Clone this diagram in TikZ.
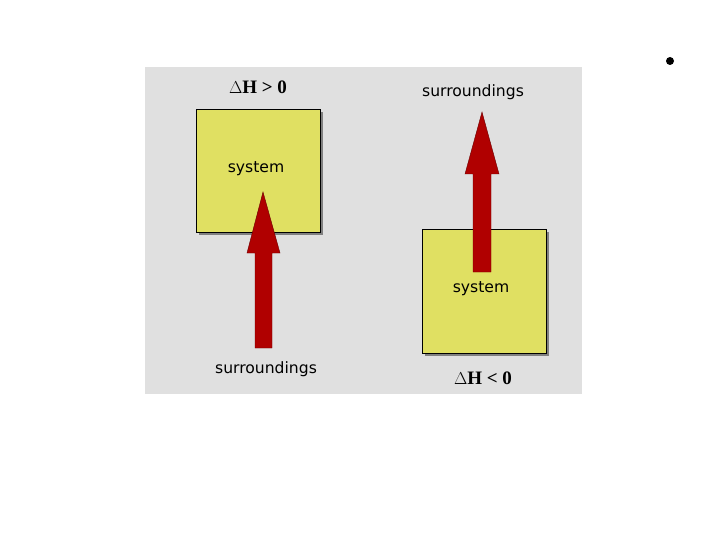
\documentclass[tikz,border=0pt]{standalone}
\usepackage{fontspec}
\setmainfont{Liberation Serif}
\newfontfamily\labfont{DejaVu Sans}
\definecolor{panel}{RGB}{224,224,224}
\definecolor{sysyellow}{RGB}{224,224,98}
\definecolor{arrowred}{RGB}{176,0,0}
\definecolor{shadowgray}{RGB}{128,128,128}
\tikzset{
  sysbox/.style={draw=black, line width=0.8pt, fill=sysyellow},
  shadowbox/.style={fill=shadowgray, draw=none},
  lab/.style={font=\labfont\fontsize{15.6}{18}\selectfont, inner sep=0pt},
  dh/.style={font=\bfseries\fontsize{19}{22}\selectfont, inner sep=0pt},
  bigarrow/.style={fill=arrowred, draw=arrowred!60!black, line width=0.4pt}
}
\begin{document}
\begin{tikzpicture}[x=1pt,y=-1pt]
\useasboundingbox (0,0) rectangle (720,540);
\fill[white] (0,0) rectangle (720,540);
% panel
\fill[panel] (145,67) rectangle (582,394);
% left box
\fill[shadowbox] (199,112) rectangle (323,235);
\draw[sysbox] (196,109) rectangle (320,232);
% right box
\fill[shadowbox] (425,232) rectangle (549,356);
\draw[sysbox] (422,229) rectangle (546,353);
% left arrow
\draw[bigarrow] (255,348) -- (255,253) -- (247,253) -- (263,192) -- (280,253) -- (272,253) -- (272,348) -- cycle;
% right arrow
\draw[bigarrow] (473,272) -- (473,174) -- (465,174) -- (482,112) -- (499,174) -- (491,174) -- (491,272) -- cycle;
% texts
\node[dh] (dhp) at (258,87) {$\Delta$H > 0};
\node[dh] (dhn) at (483,378) {$\Delta$H < 0};
\node[lab] (sys1) at (256,169) {system};
\node[lab] (sys2) at (481,289) {system};
\node[lab] (sur1) at (473,92) {surroundings};
\node[lab] (sur2) at (266,369) {surroundings};
\fill[black] (670,61) circle (4);
\end{tikzpicture}
\end{document}
